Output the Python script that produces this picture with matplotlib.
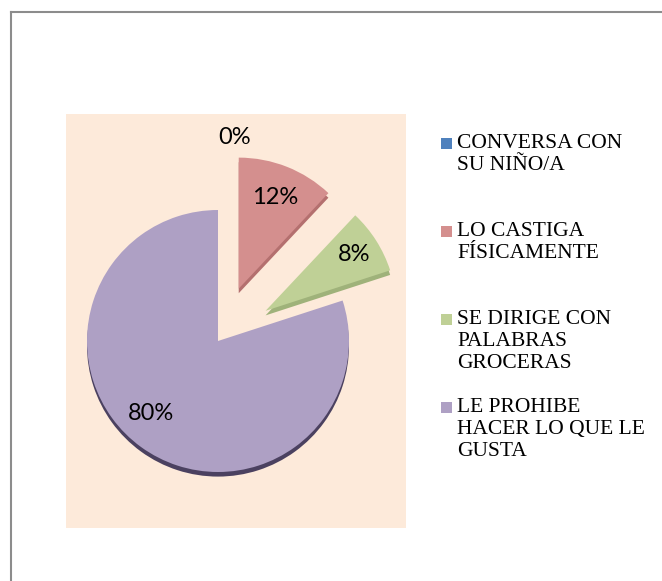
import numpy as np
import matplotlib
matplotlib.use("Agg")
import matplotlib.pyplot as plt
from matplotlib.lines import Line2D
from matplotlib.patches import Rectangle

# data
categories = ["CONVERSA CON\nSU NIÑO/A",
              "LO CASTIGA\nFÍSICAMENTE",
              "SE DIRIGE CON\nPALABRAS\nGROCERAS",
              "LE PROHIBE\nHACER LO QUE LE\nGUSTA"]
values = [0, 12, 8, 80]
pct_labels = ["0%", "12%", "8%", "80%"]

colors = ["#4F81BD", "#D48F8E", "#BFD096", "#AEA0C4"]
rims = ["#3a5f8c", "#b4706f", "#9fb27a", "#4b4160"]
explode = [0.43, 0.43, 0.43, 0.0]
label_r = [1.12, 0.75, 0.80, 0.75]

W, H = 662, 581
fig = plt.figure(figsize=(W / 100, H / 100), dpi=100)

# outer chart border (top and left visible)
fig.add_artist(Line2D([11 / W, 1], [1 - 12 / H] * 2, color="#8c8c8c", lw=1.5))
fig.add_artist(Line2D([11 / W] * 2, [0, 1 - 12 / H], color="#8c8c8c", lw=1.5))

# plot area
x0, x1, y0, y1 = 66, 406, 114, 528
ax = fig.add_axes([x0 / W, 1 - y1 / H, (x1 - x0) / W, (y1 - y0) / H])
cx, cy, rpx = 218, 341, 131

# rim / shadow layer for the 3d look
ax.pie(values, colors=rims, explode=explode, startangle=90, counterclock=False,
       center=(0, -0.035), wedgeprops=dict(linewidth=0))
wedges, _ = ax.pie(values, colors=colors, explode=explode, startangle=90,
                   counterclock=False, wedgeprops=dict(linewidth=0))

for w, ex, rl, txt in zip(wedges, explode, label_r, pct_labels):
    th = np.deg2rad((w.theta1 + w.theta2) / 2)
    d = np.array([np.cos(th), np.sin(th)])
    p = (ex + rl) * d
    if txt == "0%":
        p = p + np.array([0.13, 0])
    if txt == "80%":
        p = p + np.array([-0.07, 0.05])
    ax.text(p[0], p[1], txt, ha="center", va="center", fontsize=17,
            family=["Lato", "DejaVu Sans"], color="black")

ax.set_xlim((x0 - cx) / rpx, (x1 - cx) / rpx)
ax.set_ylim((cy - y1) / rpx, (cy - y0) / rpx)
ax.set_aspect("auto")
ax.set_frame_on(True)
ax.set_facecolor("#FDEADA")
for s in ax.spines.values():
    s.set_visible(False)
ax.set_xticks([])
ax.set_yticks([])

# legend
ly = 135
for i, (lab, c) in enumerate(zip(categories, colors)):
    top = ly + i * 88
    fig.add_artist(Rectangle((441 / W, 1 - (top + 14) / H), 11 / W, 11 / H,
                             transform=fig.transFigure, color=c, lw=0))
    fig.text(457 / W, 1 - (top - 1) / H, lab, ha="left", va="top",
             fontsize=15.5, family="Liberation Serif", linespacing=1.22,
             color="black")

fig.savefig("out.png", dpi=100)
